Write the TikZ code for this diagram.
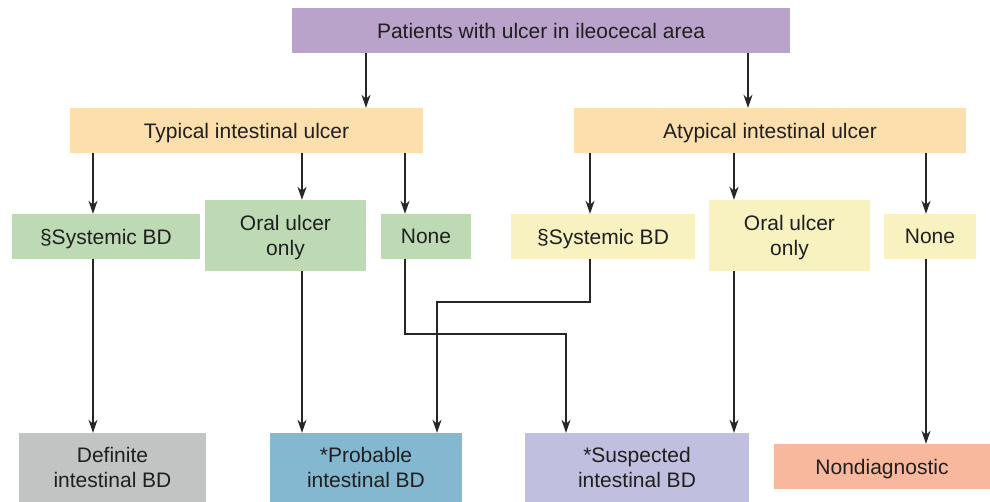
\documentclass[tikz,border=0pt]{standalone}
\usepackage{fontspec}
\setmainfont{Liberation Sans}
\usetikzlibrary{arrows.meta}
\definecolor{lilac}{HTML}{BAA3CB}
\definecolor{peach}{HTML}{FDDFAD}
\definecolor{mint}{HTML}{BEDAB5}
\definecolor{cream}{HTML}{F7F2BF}
\definecolor{ash}{HTML}{C2C3C3}
\definecolor{sky}{HTML}{84B8D0}
\definecolor{lavend}{HTML}{C1BFDF}
\definecolor{salmon}{HTML}{F8B89D}

\begin{document}
\begin{tikzpicture}[x=1pt,y=-1pt,font=\fontsize{21}{25}\selectfont,
  blk/.style={inner sep=0pt,align=center,text depth=0pt,text=black!88,
              minimum height=45pt},
  arr/.style={-{Stealth[length=13pt,width=9pt,inset=4pt]},line width=1.2pt,
              draw=black!85}]
  \useasboundingbox (0,0) rectangle (990,502);
  % entry and the two ulcer types
  \node[blk,fill=lilac,minimum width=498pt] (start) at (541,30.5)
    {Patients with ulcer in ileocecal area};
  \node[blk,fill=peach,minimum width=353pt] (typ) at (246.5,130.5)
    {Typical intestinal ulcer};
  \node[blk,fill=peach,minimum width=392pt] (atyp) at (770,130.5)
    {Atypical intestinal ulcer};
  % extra-intestinal findings
  \node[blk,fill=mint,minimum width=188pt] (sysT) at (106,236.5) {§Systemic BD};
  \node[blk,fill=mint,minimum width=161pt,minimum height=71pt] (oralT)
    at (285.5,235.5) {Oral ulcer\\only};
  \node[blk,fill=mint,minimum width=90pt] (noneT) at (426,236.5) {None};
  \node[blk,fill=cream,minimum width=184pt] (sysA) at (603,236.5) {§Systemic BD};
  \node[blk,fill=cream,minimum width=161pt,minimum height=71pt] (oralA)
    at (789.5,235.5) {Oral ulcer\\only};
  \node[blk,fill=cream,minimum width=92pt] (noneA) at (930,236.5) {None};
  % diagnoses
  \node[blk,fill=ash,minimum width=187pt,minimum height=69pt] (defin)
    at (112.5,467.5) {Definite\\intestinal BD};
  \node[blk,fill=sky,minimum width=192pt,minimum height=69pt] (prob)
    at (366,467.5) {*Probable\\intestinal BD};
  \node[blk,fill=lavend,minimum width=224pt,minimum height=69pt] (susp)
    at (637,467.5) {*Suspected\\intestinal BD};
  \node[blk,fill=salmon,minimum width=216pt] (nondiag) at (882,466.5)
    {Nondiagnostic};
  \coordinate (bendT) at (566,334);
  \coordinate (bendA) at (437,302);
  \draw[arr] (start.south -| 366,0) -- (typ.north -| 366,0);
  \draw[arr] (start.south -| 748,0) -- (atyp.north -| 748,0);
  \draw[arr] (typ.south -| 93,0) -- (sysT.north -| 93,0);
  \draw[arr] (typ.south -| 302,0) -- (oralT.north -| 302,0);
  \draw[arr] (typ.south -| 405,0) -- (noneT.north -| 405,0);
  \draw[arr] (atyp.south -| 590,0) -- (sysA.north -| 590,0);
  \draw[arr] (atyp.south -| 734,0) -- (oralA.north -| 734,0);
  \draw[arr] (atyp.south -| 926,0) -- (noneA.north -| 926,0);
  \draw[arr] (sysT.south -| 93,0) -- (defin.north -| 93,0);
  \draw[arr] (oralT.south -| 302,0) -- (prob.north -| 302,0);
  \draw[arr] (noneT.south -| 405,0) |- (bendT) -- (susp.north -| bendT);
  \draw[arr] (sysA.south -| 590,0) |- (bendA) -- (prob.north -| bendA);
  \draw[arr] (oralA.south -| 734,0) -- (susp.north -| 734,0);
  \draw[arr] (noneA.south -| 926,0) -- (nondiag.north -| 926,0);
\end{tikzpicture}
\end{document}
